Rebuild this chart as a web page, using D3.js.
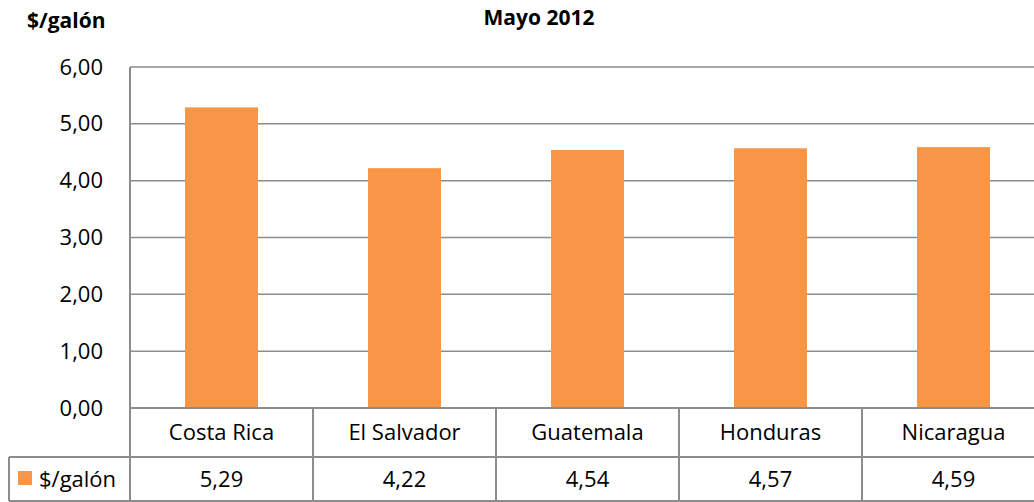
<!DOCTYPE html>
<html>
<head>
<meta charset="utf-8">
<script src="https://cdn.jsdelivr.net/npm/d3@7"></script>
<style>
  body { margin: 0; background: #fff; overflow: hidden; }
  text { font-family: "Open Sans", "Noto Sans", sans-serif; fill: #000; }
</style>
</head>
<body>
<div id="chart"></div>
<script>
// Données
const paises = ["Costa Rica", "El Salvador", "Guatemala", "Honduras", "Nicaragua"];
const precios = [5.29, 4.22, 4.54, 4.57, 4.59];
const ticks = [0, 1, 2, 3, 4, 5, 6];
const serie = "$/galón";
const titulo = "Mayo 2012";

const W = 1034, H = 502;
const plotL = 130, plotR = 1045, plotT = 67, plotB = 408;
const rowH1 = 49, rowH2 = 44;
const fs = "22px";
const fmt = v => v.toFixed(2).replace(".", ",");

const svg = d3.select("#chart").append("svg")
    .attr("width", W).attr("height", H);

const x = d3.scaleBand().domain(paises).range([plotL, plotR]).paddingInner(0).paddingOuter(0);
const y = d3.scaleLinear().domain([0, 6]).range([plotB, plotT]);

// grille
svg.append("g").selectAll("line")
    .data(ticks.filter(t => t > 0))
    .join("line")
    .attr("x1", plotL).attr("x2", plotR)
    .attr("y1", d => y(d)).attr("y2", d => y(d))
    .attr("stroke", "#8c8c8c").attr("stroke-width", 1.5);

// axe Y
const yAxis = svg.append("g")
    .attr("transform", `translate(${plotL},0)`)
    .call(d3.axisLeft(y).tickValues(ticks).tickFormat(fmt).tickSize(0).tickPadding(27));
yAxis.select(".domain").remove();
yAxis.selectAll("text").style("font-size", fs).attr("fill", "#000")
    .style("font-family", "'Open Sans', sans-serif");

// barres
const barW = 73;
svg.append("g").selectAll("rect")
    .data(paises)
    .join("rect")
    .attr("x", (d) => x(d) + x.bandwidth() / 2 - barW / 2)
    .attr("y", (d, i) => y(precios[i]))
    .attr("width", barW)
    .attr("height", (d, i) => y(0) - y(precios[i]))
    .attr("fill", "#f79646");

// tableau de données
const grid = "#8c8c8c";
const g = svg.append("g");
const rowTop = plotB, rowMid = plotB + rowH1, rowBot = rowMid + rowH2;
g.append("line").attr("x1", plotL).attr("x2", plotR).attr("y1", rowTop).attr("y2", rowTop)
    .attr("stroke", grid).attr("stroke-width", 2);
g.append("line").attr("x1", 9).attr("x2", plotR).attr("y1", rowMid).attr("y2", rowMid)
    .attr("stroke", grid).attr("stroke-width", 2);
g.append("line").attr("x1", 9).attr("x2", plotR).attr("y1", rowBot).attr("y2", rowBot)
    .attr("stroke", grid).attr("stroke-width", 2);
g.append("line").attr("x1", 9).attr("x2", 9).attr("y1", rowMid).attr("y2", rowBot)
    .attr("stroke", grid).attr("stroke-width", 2);
// axe vertical gauche + séparateurs
g.append("line").attr("x1", plotL).attr("x2", plotL).attr("y1", plotT).attr("y2", rowBot)
    .attr("stroke", grid).attr("stroke-width", 2);
g.selectAll(".sep")
    .data(paises.slice(1))
    .join("line")
    .attr("class", "sep")
    .attr("x1", d => x(d)).attr("x2", d => x(d))
    .attr("y1", rowTop).attr("y2", rowBot)
    .attr("stroke", grid).attr("stroke-width", 2);

g.selectAll(".cat")
    .data(paises)
    .join("text")
    .attr("class", "cat")
    .attr("x", d => x(d) + x.bandwidth() / 2)
    .attr("y", rowTop + rowH1 / 2)
    .attr("dy", "0.35em")
    .attr("text-anchor", "middle")
    .style("font-size", fs)
    .text(d => d);

g.selectAll(".val")
    .data(paises)
    .join("text")
    .attr("class", "val")
    .attr("x", d => x(d) + x.bandwidth() / 2)
    .attr("y", rowMid + rowH2 / 2)
    .attr("dy", "0.35em")
    .attr("text-anchor", "middle")
    .style("font-size", fs)
    .text((d, i) => fmt(precios[i]));

// légende dans le tableau
g.append("rect").attr("x", 18).attr("y", rowMid + 14).attr("width", 14).attr("height", 14)
    .attr("fill", "#f79646");
g.append("text").attr("x", 39).attr("y", rowMid + rowH2 / 2).attr("dy", "0.35em")
    .style("font-size", fs).text(serie);

// titres
svg.append("text").attr("x", 539).attr("y", 25).attr("text-anchor", "middle")
    .style("font-size", "21px").style("font-weight", "bold").text(titulo);
svg.append("text").attr("x", 27).attr("y", 28)
    .style("font-size", "21px").style("font-weight", "bold").text(serie);
</script>
</body>
</html>
